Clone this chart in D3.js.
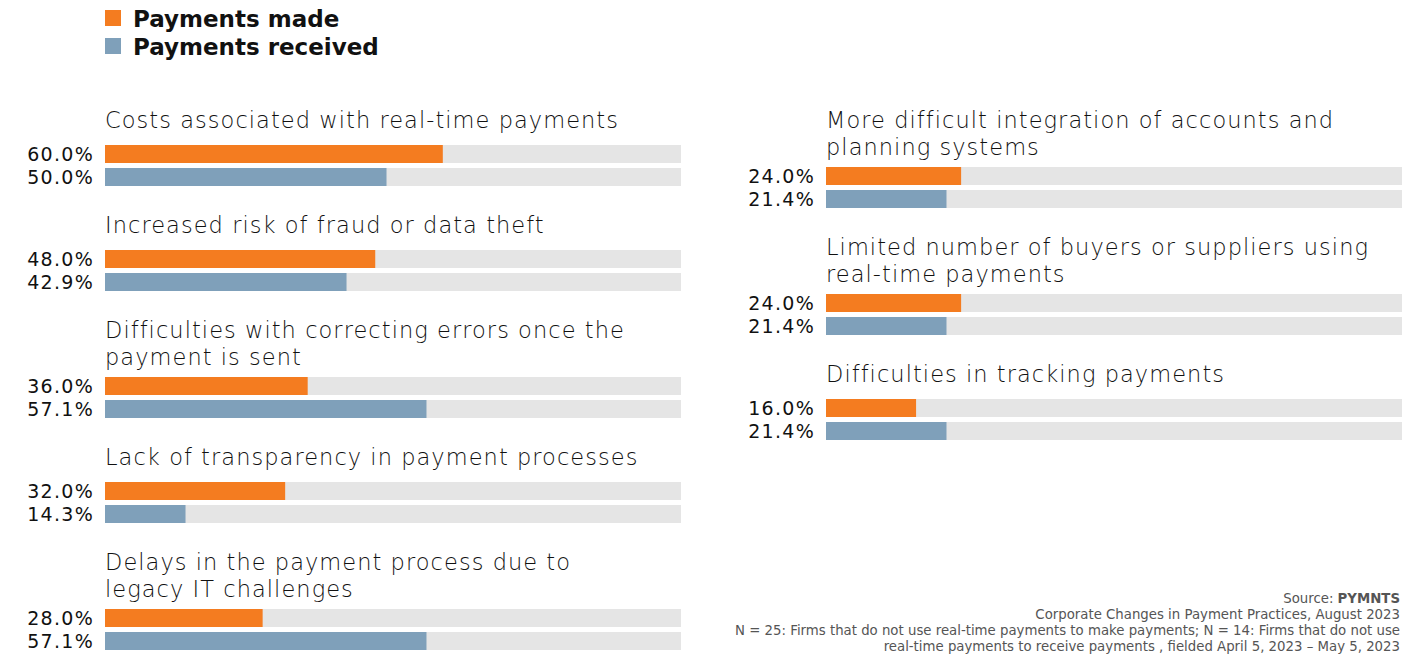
<!DOCTYPE html>
<html>
<head>
<meta charset="utf-8">
<script src="https://cdn.jsdelivr.net/npm/d3@7"></script>
<style>
  html, body { margin: 0; padding: 0; background: #fff; }
  svg { display: block; }
</style>
</head>
<body>
<script>
// ---------- DATA ----------
const seriesNames = ["Payments made", "Payments received"];
const seriesColors = ["#F47C20", "#7FA0BA"];

const leftCategories = [
  ["Costs associated with real-time payments"],
  ["Increased risk of fraud or data theft"],
  ["Difficulties with correcting errors once the", "payment is sent"],
  ["Lack of transparency in payment processes"],
  ["Delays in the payment process due to", "legacy IT challenges"]
];
const leftMade     = [60.0, 48.0, 36.0, 32.0, 28.0];
const leftReceived = [50.0, 42.9, 57.1, 14.3, 57.1];

const rightCategories = [
  ["More difficult integration of accounts and", "planning systems"],
  ["Limited number of buyers or suppliers using", "real-time payments"],
  ["Difficulties in tracking payments"]
];
const rightMade     = [24.0, 24.0, 16.0];
const rightReceived = [21.4, 21.4, 21.4];

const footnoteSource = "PYMNTS";
const footnoteLines = [
  "Corporate Changes in Payment Practices, August 2023",
  "N = 25: Firms that do not use real-time payments to make payments; N = 14: Firms that do not use",
  "real-time payments to receive payments , fielded April 5, 2023 \u2013 May 5, 2023"
];

// ---------- LAYOUT ----------
const W = 1415, H = 656;
const svg = d3.select("body").append("svg").attr("width", W).attr("height", H);

const font = "'DejaVu Sans', sans-serif";
const trackWidth = 576;
const barH = 18, barGap = 5;
const x = d3.scaleLinear().domain([0, 100]).range([0, 563]);
const fmt = d3.format(".1f");

// Legend
const legend = svg.append("g").attr("transform", "translate(105,0)");
seriesNames.forEach((name, i) => {
  const g = legend.append("g").attr("transform", `translate(0,${10 + i * 28})`);
  g.append("rect").attr("width", 16).attr("height", 16).attr("fill", seriesColors[i]);
  g.append("text").attr("x", 28).attr("y", 16.5)
    .attr("font-family", font).attr("font-weight", 700).attr("font-size", 23)
    .attr("fill", "#111").text(name);
});

function drawColumn(x0, cats, made, received) {
  const col = svg.append("g").attr("transform", `translate(${x0},0)`);
  let baseline = 128;
  cats.forEach((lines, i) => {
    const g = col.append("g");
    lines.forEach((ln, j) => {
      g.append("text").attr("x", 0).attr("y", baseline + j * 27)
        .attr("font-family", font).attr("font-weight", 200).attr("font-size", 22.5)
        .attr("letter-spacing", 1.05)
        .attr("fill", "#111").text(ln);
    });
    const barTop = baseline + 17 + (lines.length - 1) * 22;
    const vals = [made[i], received[i]];
    vals.forEach((v, k) => {
      const y = barTop + k * (barH + barGap);
      g.append("rect").attr("x", 0).attr("y", y).attr("width", trackWidth).attr("height", barH)
        .attr("fill", "#E5E5E5");
      g.append("rect").attr("x", 0).attr("y", y).attr("width", x(v)).attr("height", barH)
        .attr("fill", seriesColors[k]);
      g.append("text").attr("x", -11).attr("y", y + barH / 2).attr("dy", "0.36em")
        .attr("text-anchor", "end")
        .attr("font-family", font).attr("font-weight", 400).attr("font-size", 19)
        .attr("letter-spacing", 1.3)
        .attr("fill", "#111").text(fmt(v) + "%");
    });
    baseline = barTop + 2 * barH + barGap + 47;
  });
}

drawColumn(105, leftCategories, leftMade, leftReceived);
drawColumn(826, rightCategories, rightMade, rightReceived);

// Footnote
const foot = svg.append("g").attr("font-family", font).attr("font-size", 13.3)
  .attr("fill", "#555").attr("text-anchor", "end");
const src = foot.append("text").attr("x", 1400).attr("y", 603);
src.append("tspan").text("Source: ");
src.append("tspan").attr("font-weight", 700).text(footnoteSource);
footnoteLines.forEach((ln, i) => {
  foot.append("text").attr("x", 1400).attr("y", 619 + i * 16).text(ln);
});
</script>
</body>
</html>
